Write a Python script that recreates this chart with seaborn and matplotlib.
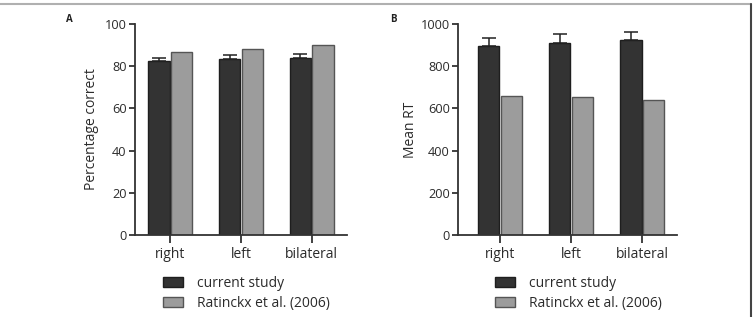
import numpy as np
import pandas as pd
import matplotlib.pyplot as plt
import seaborn as sns
from matplotlib.patches import Patch
from matplotlib.lines import Line2D

sns.set_style("ticks")
plt.rcParams['font.family'] = ['Open Sans', 'DejaVu Sans']

conditions = ['right', 'left', 'bilateral']
studies = ['current study', 'Ratinckx et al. (2006)']

acc_current = [82.3, 83.6, 83.7]
acc_current_err = [1.4, 1.6, 1.9]
acc_ratinckx = [86.9, 88.0, 90.0]

rt_current = [897, 911, 924]
rt_current_err = [38, 43, 38]
rt_ratinckx = [657, 654, 638]

dark = '#333333'
light = '#9c9c9c'
text_col = '#2b2b2b'
FS = 10


def make_df(cur, rat):
    return pd.DataFrame({
        'condition': conditions * 2,
        'study': [studies[0]] * 3 + [studies[1]] * 3,
        'value': list(cur) + list(rat),
    })


def draw_panel(ax, cur, cur_err, rat, ylim, yticks, ylabel, xlim, pad):
    df = make_df(cur, rat)
    sns.barplot(data=df, x='condition', y='value', hue='study', order=conditions,
                hue_order=studies, palette=[dark, light], width=0.64, gap=0.05,
                errorbar=None, legend=False, ax=ax)
    for i, bar in enumerate(ax.patches):
        bar.set_edgecolor('#1e1e1e' if i < 3 else '#555555')
        bar.set_linewidth(1.0)
    # upper error bars on the current-study bars
    xs = [p.get_x() + p.get_width() / 2 for p in ax.patches[:3]]
    ax.errorbar(xs, cur, yerr=[np.zeros(3), cur_err], fmt='none', ecolor='#222222',
                elinewidth=1.1, capsize=5, capthick=1.1, zorder=5)
    ax.set_xlim(*xlim)
    ax.set_ylim(*ylim)
    ax.set_yticks(yticks)
    ax.set_xlabel('')
    ax.set_ylabel(ylabel, fontsize=FS, color=text_col, labelpad=pad)
    sns.despine(ax=ax)
    for s in ['left', 'bottom']:
        ax.spines[s].set_linewidth(1.3)
        ax.spines[s].set_color('#333333')
    ax.tick_params(axis='y', length=4, width=1.3, color='#333333', labelsize=9.2,
                   labelcolor=text_col, pad=2)
    ax.tick_params(axis='x', length=6, width=1.3, color='#333333', labelsize=FS,
                   labelcolor=text_col, pad=3)


W, H = 755, 317
fig = plt.figure(figsize=(W / 100, H / 100), dpi=100)

axA = fig.add_axes([135 / W, (H - 235) / H, (347 - 135) / W, (235 - 24) / H])
draw_panel(axA, acc_current, acc_current_err, acc_ratinckx, (0, 100),
           [0, 20, 40, 60, 80, 100], 'Percentage correct', (-0.5, 2.5), 4)

axB = fig.add_axes([458 / W, (H - 235) / H, (677 - 458) / W, (235 - 24) / H])
draw_panel(axB, rt_current, rt_current_err, rt_ratinckx, (0, 1000),
           [0, 200, 400, 600, 800, 1000], 'Mean RT', (-0.59, 2.49), 2)

fig.text(66 / W, 1 - 19 / H, 'A', fontsize=7, fontweight='bold', va='center',
         color='#222222')
fig.text(390 / W, 1 - 19 / H, 'B', fontsize=7, fontweight='bold', va='center',
         color='#222222')

handles = [Patch(facecolor=dark, edgecolor='#1e1e1e', linewidth=1.0),
           Patch(facecolor=light, edgecolor='#555555', linewidth=1.0)]
for x0 in [157, 489]:
    fig.legend(handles, studies, loc='upper left', bbox_to_anchor=(x0 / W, 1 - 270 / H),
               frameon=False, fontsize=FS, handlelength=1.5, handleheight=0.75,
               handletextpad=0.95, labelspacing=0.4, borderaxespad=0,
               labelcolor=text_col)

# figure frame: light rule on top, dark rule on the right
fig.add_artist(Line2D([0, 751 / W], [1 - 4 / H, 1 - 4 / H], color='#b0b0b0',
                      linewidth=1.5, transform=fig.transFigure))
fig.add_artist(Line2D([751 / W, 751 / W], [0, 1 - 4 / H], color='#444444',
                      linewidth=1.5, transform=fig.transFigure))

fig.savefig('out.png', dpi=100, facecolor='white')
